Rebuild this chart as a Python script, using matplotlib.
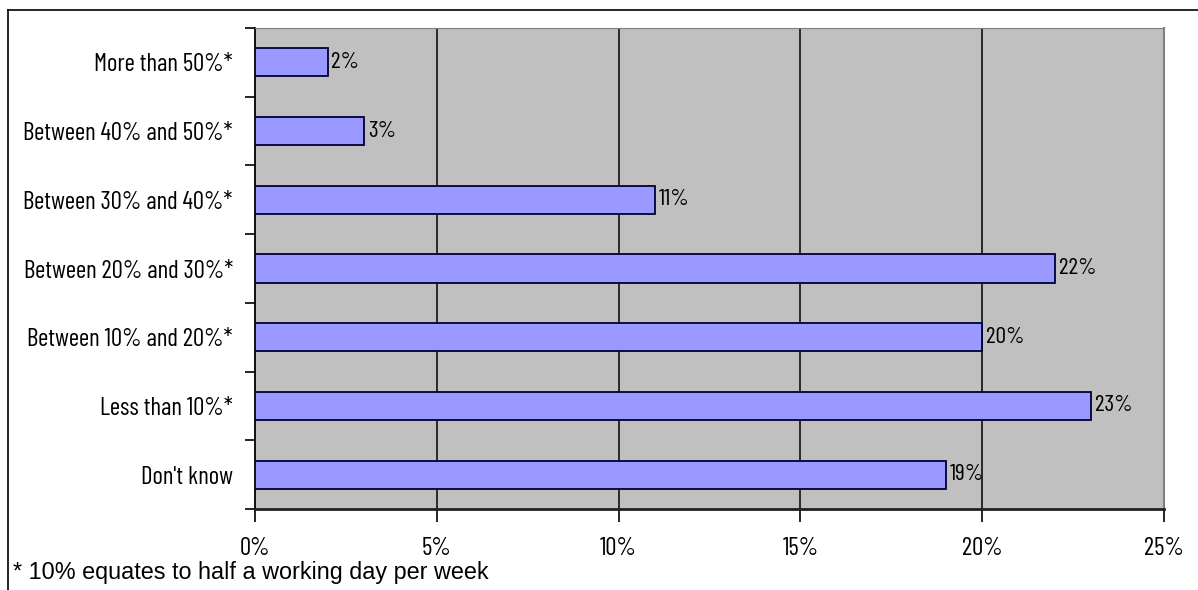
import matplotlib
matplotlib.use("Agg")
import matplotlib.pyplot as plt
from matplotlib.lines import Line2D
from matplotlib.ticker import FixedLocator
import matplotlib.font_manager as fm

categories = ["More than 50%*", "Between 40% and 50%*", "Between 30% and 40%*",
              "Between 20% and 30%*", "Between 10% and 20%*", "Less than 10%*", "Don't know"]
values = [2, 3, 11, 22, 20, 23, 19]
xticks = [0, 5, 10, 15, 20, 25]
xtick_labels = ["0%", "5%", "10%", "15%", "20%", "25%"]
footnote = "* 10% equates to half a working day per week"

names = {f.name for f in fm.fontManager.ttflist}
narrow = next((n for n in ["Barlow Condensed", "Archivo Narrow", "Roboto Condensed",
                           "PT Sans Narrow", "Liberation Sans"] if n in names), "DejaVu Sans")

fig = plt.figure(figsize=(11.98, 5.90), dpi=100)
ax = fig.add_axes([255/1198, 1-509/590, 909/1198, 481/590])
ax.set_facecolor("#C0C0C0")

n = len(categories)
ypos = list(range(n))
ax.barh(ypos, values, height=0.41, color="#9999FF", edgecolor="#000033", linewidth=1.3, zorder=3)
for y, v in zip(ypos, values):
    ax.text(v + 0.1, y, f"{v}%", va="center", ha="left", fontsize=17, family=narrow, zorder=4)

ax.set_xlim(0, 25)
ax.set_ylim(n - 0.5, -0.5)
ax.set_xticks(xticks)
ax.set_xticklabels(xtick_labels, family=narrow, fontsize=18)
ax.set_yticks(ypos)
ax.set_yticklabels(categories, family=narrow, fontsize=18)
ax.yaxis.set_minor_locator(FixedLocator([i - 0.5 for i in range(n + 1)]))
ax.tick_params(axis="y", which="major", length=0, pad=16)
ax.tick_params(axis="y", which="minor", length=7, width=1.2, color="black")
ax.tick_params(axis="x", which="major", length=9, width=1.2, pad=11, color="black")
for xv in xticks[1:-1]:
    ax.axvline(xv, color="black", linewidth=1.1, zorder=1)
ax.spines["left"].set_color("black")
ax.spines["left"].set_linewidth(1.3)
ax.spines["bottom"].set_color("#202020")
ax.spines["bottom"].set_linewidth(2)
ax.spines["top"].set_color("#808080")
ax.spines["right"].set_color("#808080")
ax.spines["right"].set_linewidth(1.5)

fig.add_artist(Line2D([8/1198, 8/1198], [0, 1-10/590], transform=fig.transFigure, color="black", linewidth=1.2))
fig.add_artist(Line2D([8/1198, 1], [1-10/590, 1-10/590], transform=fig.transFigure, color="black", linewidth=1.2))

fig.text(13/1198, 1-573/590, footnote, ha="left", va="center", fontsize=16.8, family="Liberation Sans")

fig.savefig("out.png", dpi=100)
